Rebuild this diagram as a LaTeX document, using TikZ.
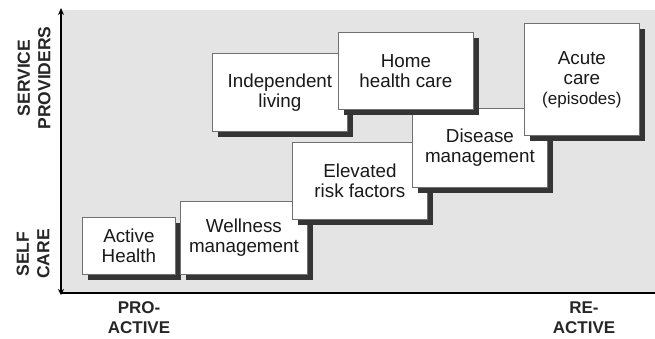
\documentclass[tikz,border=0pt]{standalone}
\usepackage{fontspec}
\setmainfont{Liberation Sans}
\usetikzlibrary{shadows,arrows.meta}
\definecolor{bgc}{HTML}{E4E4E4}
\definecolor{shadowc}{HTML}{353535}
\definecolor{edgec}{HTML}{707070}
\tikzset{
  stepbox/.style={draw=edgec, line width=0.8pt, fill=white, align=center,
    inner sep=0pt, anchor=north west,
    font=\fontsize{18.8}{20}\selectfont, text=black!90,
    drop shadow={shadow xshift=6pt, shadow yshift=-6pt, fill=shadowc, opacity=1}},
  axislabel/.style={align=center, font=\fontsize{17.5}{20.5}\selectfont\bfseries, text=black!85},
  axisline/.style={line width=1.4pt, black}
}
\begin{document}
\begin{tikzpicture}[x=1pt,y=-1pt]
\useasboundingbox (0,0) rectangle (655,338);
\fill[bgc] (61,10) rectangle (655,293);
% boxes (drawing order matters)
\node[stepbox, minimum width=93pt, minimum height=57pt] (active) at (82,217) {Active\\Health};
\node[stepbox, minimum width=127pt, minimum height=73pt] (well) at (180,201) {Wellness\\management};
\node[stepbox, minimum width=135pt, minimum height=78pt] (indep) at (212,53) {Independent\\living};
\node[stepbox, minimum width=135pt, minimum height=77pt] (elev) at (292,142) {Elevated\\risk factors};
\node[stepbox, minimum width=135pt, minimum height=79pt] (dis) at (412,108) {Disease\\management};
\node[stepbox, minimum width=135pt, minimum height=77pt] (home) at (338,32) {Home\\health care};
\node[stepbox, minimum width=115pt, minimum height=112pt] (acute) at (524,23) {Acute\\care\\{\fontsize{17}{20}\selectfont(episodes)}};
% axes
\coordinate (origin) at (61,293);
\coordinate (ytop) at (61,8);
\coordinate (ybot) at (61,295);
\coordinate (xend) at (655,293);
\draw[axisline, -{Stealth[length=7pt,width=6pt]}] (origin) -- (ytop);
\draw[axisline, -{Stealth[length=6pt,width=6pt]}] (61,285) -- (ybot);
\draw[axisline] (origin) -- (xend);
% labels
\node[axislabel, rotate=90] (sp) at (34,78) {SERVICE\\PROVIDERS};
\node[axislabel, rotate=90] (sc) at (33,254) {SELF\\CARE};
\node[axislabel, font=\fontsize{17}{20}\selectfont\bfseries] (pro) at (139,318) {PRO-\\ACTIVE};
\node[axislabel, font=\fontsize{17}{20}\selectfont\bfseries] (re) at (584,318) {RE-\\ACTIVE};
\end{tikzpicture}
\end{document}
